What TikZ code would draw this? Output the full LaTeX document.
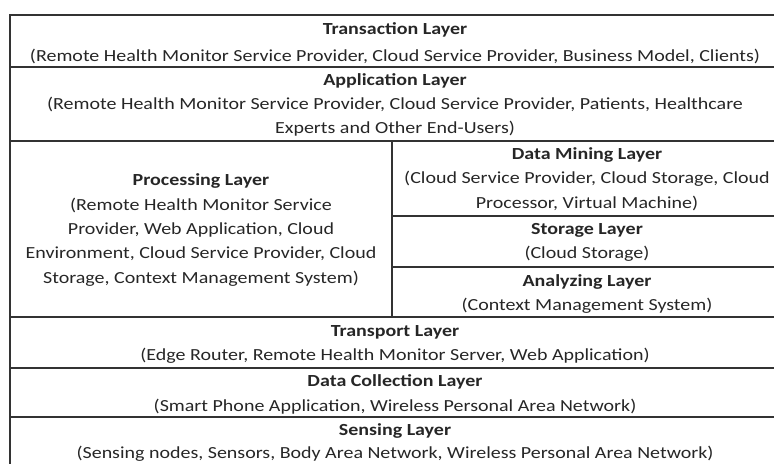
\documentclass[tikz,border=0pt]{standalone}
\usepackage{fontspec}
\setmainfont{Carlito}[FakeStretch=1.18]
\begin{document}
\begin{tikzpicture}[x=1bp,y=-1bp,
  rule/.style={draw=black!80,line width=1.4bp},
  cell/.style={align=center,text=black!85,inner sep=0pt,
    font=\fontsize{17}{24.5}\selectfont}]
\useasboundingbox (0,0) rectangle (774,464);
\clip (0,0) rectangle (774,464);
% table rules
\draw[rule] (10,480) -- (10,15) -- (800,15);
\draw[rule] (10,67) -- (800,67);
\draw[rule] (10,141) -- (800,141);
\draw[rule] (10,317) -- (800,317);
\draw[rule] (10,368) -- (800,368);
\draw[rule] (10,417) -- (800,417);
\draw[rule] (392,141) -- (392,317);
\draw[rule] (392,216) -- (800,216);
\draw[rule] (392,267) -- (800,267);
% cells
\node[cell,font=\fontsize{17}{27}\selectfont] (trans) at (395,43.5) {\textbf{Transaction Layer}\\(Remote Health Monitor Service Provider, Cloud Service Provider, Business Model, Clients)};
\node[cell] (appl) at (395,105) {\textbf{Application Layer}\\(Remote Health Monitor Service Provider, Cloud Service Provider, Patients, Healthcare\\Experts and Other End-Users)};
\node[cell] (proc) at (201,230) {\textbf{Processing Layer}\\(Remote Health Monitor Service\\Provider, Web Application, Cloud\\Environment, Cloud Service Provider, Cloud\\Storage, Context Management System)};
\node[cell] (mining) at (587,179) {\textbf{Data Mining Layer}\\(Cloud Service Provider, Cloud Storage, Cloud\\Processor, Virtual Machine)};
\node[cell] (storage) at (587,242.5) {\textbf{Storage Layer}\\(Cloud Storage)};
\node[cell] (analyz) at (587,294) {\textbf{Analyzing Layer}\\(Context Management System)};
\node[cell] (transp) at (395,344.5) {\textbf{Transport Layer}\\(Edge Router, Remote Health Monitor Server, Web Application)};
\node[cell] (collect) at (395,394.5) {\textbf{Data Collection Layer}\\(Smart Phone Application, Wireless Personal Area Network)};
\node[cell,font=\fontsize{17}{23.5}\selectfont] (sensing) at (395,442.5) {\textbf{Sensing Layer}\\(Sensing nodes, Sensors, Body Area Network, Wireless Personal Area Network)};
\end{tikzpicture}
\end{document}
